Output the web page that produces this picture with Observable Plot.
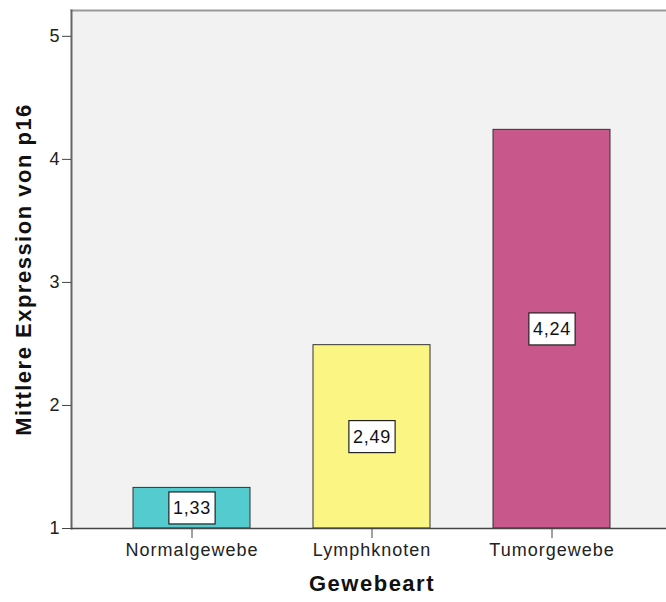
<!DOCTYPE html>
<html><head><meta charset="utf-8">
<script src="https://cdn.jsdelivr.net/npm/d3@7"></script>
<script src="https://cdn.jsdelivr.net/npm/@observablehq/plot@0.6"></script>
<style>body{margin:0;background:#fff}</style>
</head><body><div id="chart"></div>
<script>
const categories = ["Normalgewebe", "Lymphknoten", "Tumorgewebe"];
const values = [1.33, 2.49, 4.24];
const colors = ["#53cbcf", "#fbf584", "#c8578c"];
const yTicks = [1, 2, 3, 4, 5];
const xTitle = "Gewebeart";
const yTitle = "Mittlere Expression von p16";

const data = categories.map((c, i) => ({cat: c, value: values[i], color: colors[i]}));
const fmt = v => v.toFixed(2).replace(".", ",");

const chart = Plot.plot({
  width: 666, height: 602,
  marginLeft: 71, marginRight: 0, marginTop: 10, marginBottom: 74,
  style: {fontFamily: "'Liberation Sans', Arial, sans-serif", background: "#fff", color: "#222"},
  x: {domain: categories, range: [101.5, 641.5], paddingInner: 0.35, paddingOuter: 0.175, label: null},
  y: {domain: [1, 5.21], label: null},
  marks: [
    Plot.frame({fill: "#f2f2f2", stroke: null}),
    Plot.frame({anchor: "top", stroke: "#999", strokeWidth: 2}),
    Plot.frame({anchor: "left", stroke: "#666", strokeWidth: 2}),
    Plot.barY(data, {x: "cat", y1: 1, y2: "value", fill: "color", stroke: "#333", strokeWidth: 1}),
    Plot.ruleY([1], {stroke: "#444", strokeWidth: 1.5}),
    Plot.axisY({ticks: yTicks, tickSize: 9, tickPadding: 3, tickFormat: d => String(d), fontSize: 18, label: null, stroke: "#444", className: "yax"}),
    Plot.axisX({tickSize: 10, tickPadding: 5, fontSize: 18, label: null, stroke: "#444", className: "xax"}),
    Plot.text(data, {x: "cat", y: d => (1 + d.value) / 2, text: d => fmt(d.value), fontSize: 18, fill: "#111", className: "vlabel"}),
    Plot.text([yTitle], {frameAnchor: "left", textAnchor: "middle", text: d => d, rotate: -90, dx: -48, fontSize: 22, fontWeight: "bold", fill: "#111", className: "ttl"}),
    Plot.text([xTitle], {frameAnchor: "bottom", textAnchor: "middle", text: d => d, dx: 3, dy: 62, fontSize: 22, fontWeight: "bold", fill: "#111", className: "ttl"})
  ]
});
document.getElementById("chart").appendChild(chart);

d3.select(chart).selectAll("g.xax text").style("letter-spacing", "1px");
d3.select(chart).selectAll("g.vlabel text").style("letter-spacing", "0.8px");
d3.select(chart).selectAll("g.ttl text").style("letter-spacing", "1.5px");

// white boxes behind value labels
d3.select(chart).selectAll("g.vlabel text").each(function() {
  const b = this.getBBox();
  const padX = 4, padY = 7;
  d3.select(this.parentNode).insert("rect", () => this)
    .attr("x", b.x - padX).attr("y", b.y - padY + 1)
    .attr("width", b.width + 2 * padX).attr("height", b.height + 2 * padY - 2)
    .attr("fill", "#fff").attr("stroke", "#222").attr("stroke-width", 1.2)
    .attr("transform", this.getAttribute("transform"));
});
</script>
</body></html>
